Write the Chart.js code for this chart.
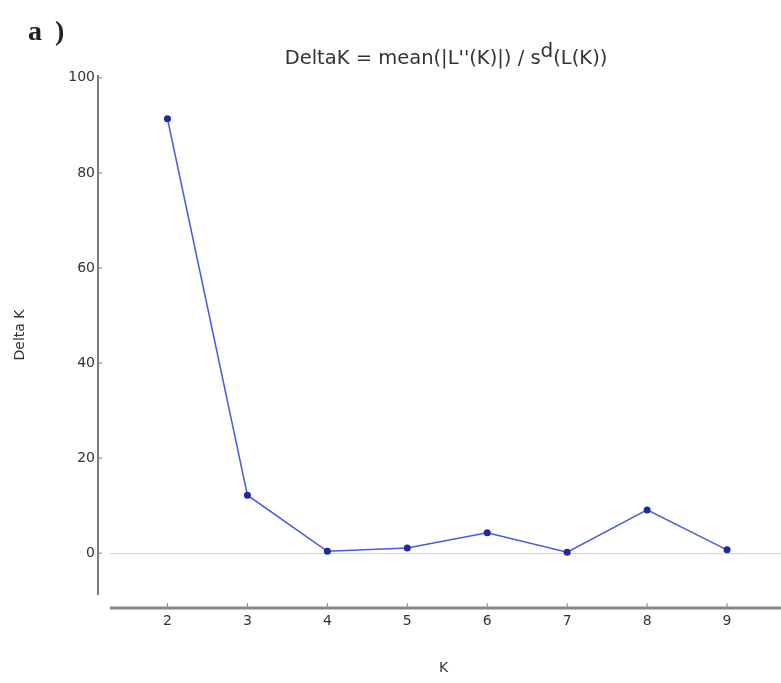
<!DOCTYPE html>
<html>
<head>
<meta charset="utf-8">
<script src="https://cdn.jsdelivr.net/npm/chart.js@4/dist/chart.umd.min.js"></script>
<style>
  html, body { margin: 0; padding: 0; background: #fff; }
  #wrap { width: 781px; height: 683px; position: relative; }
</style>
</head>
<body>
<div id="wrap"><canvas id="deltak-chart" width="781" height="683"></canvas></div>
<script>
// values
const kValues = [2, 3, 4, 5, 6, 7, 8, 9];
const deltaK = [91.4, 12.2, 0.4, 1.1, 4.3, 0.2, 9.1, 0.7];
const yTicks = [0, 20, 40, 60, 80, 100];
const xTicks = [2, 3, 4, 5, 6, 7, 8, 9];

const SANS = '"DejaVu Sans", Verdana, sans-serif';

// offset spines, title with superscript and the panel letter
const decorations = {
    id: 'decorations',
    afterDraw(chart) {
        const ctx = chart.ctx;
        const area = chart.chartArea;
        const x = chart.scales.x;
        const y = chart.scales.y;
        ctx.save();

        // left spine, pushed out from the plot area
        const lx = area.left - 12;
        ctx.strokeStyle = '#7a7a7a';
        ctx.lineWidth = 2;
        ctx.beginPath();
        ctx.moveTo(lx, area.top);
        ctx.lineTo(lx, area.bottom);
        ctx.stroke();
        ctx.lineWidth = 1;
        yTicks.forEach(v => {
            const py = y.getPixelForValue(v);
            ctx.beginPath();
            ctx.moveTo(lx, py);
            ctx.lineTo(lx + 4, py);
            ctx.stroke();
        });

        // zero line runs on to the canvas edge
        const zy = y.getPixelForValue(0);
        ctx.strokeStyle = '#cfcfcf';
        ctx.beginPath();
        ctx.moveTo(area.right, zy + 0.5);
        ctx.lineTo(chart.width, zy + 0.5);
        ctx.stroke();

        // bottom spine
        const by = area.bottom + 13;
        ctx.strokeStyle = '#888';
        ctx.lineWidth = 3;
        ctx.beginPath();
        ctx.moveTo(area.left, by);
        ctx.lineTo(chart.width, by);
        ctx.stroke();
        ctx.lineWidth = 1;
        xTicks.forEach(v => {
            const px = x.getPixelForValue(v);
            ctx.beginPath();
            ctx.moveTo(px, by - 5);
            ctx.lineTo(px, by);
            ctx.stroke();
        });

        // title: DeltaK = mean(|L''(K)|) / s^d(L(K))
        const parts = [
            { t: "DeltaK = mean(|L''(K)|) / s", size: 19.5, dy: 0 },
            { t: 'd', size: 20, dy: -7 },
            { t: '(L(K))', size: 19.5, dy: 0 }
        ];
        let total = 0;
        parts.forEach(p => {
            ctx.font = p.size + 'px ' + SANS;
            p.w = ctx.measureText(p.t).width;
            total += p.w;
        });
        let tx = 446 - total / 2;
        ctx.fillStyle = '#333';
        ctx.textBaseline = 'alphabetic';
        ctx.textAlign = 'left';
        parts.forEach(p => {
            ctx.font = p.size + 'px ' + SANS;
            ctx.fillText(p.t, tx, 64 + p.dy);
            tx += p.w;
        });

        // panel letter
        ctx.font = 'bold 28px "Liberation Serif", "Times New Roman", serif';
        ctx.fillStyle = '#222';
        ctx.letterSpacing = '3px';
        ctx.fillText('a )', 28, 40);

        ctx.restore();
    }
};

new Chart(document.getElementById('deltak-chart').getContext('2d'), {
    type: 'line',
    data: {
        datasets: [{
            label: 'DeltaK',
            data: kValues.map((k, i) => ({ x: k, y: deltaK[i] })),
            borderColor: '#4a5ae0',
            borderWidth: 1.5,
            backgroundColor: '#1e2a9e',
            pointBackgroundColor: '#1e2a9e',
            pointBorderColor: '#1e2a9e',
            pointRadius: 3.5,
            pointBorderWidth: 0,
            tension: 0,
            fill: false
        }]
    },
    options: {
        responsive: false,
        animation: false,
        layout: { padding: { top: 75, left: 0, right: 0, bottom: 0 } },
        plugins: {
            legend: { display: false },
            title: { display: false },
            tooltip: { enabled: false }
        },
        scales: {
            x: {
                type: 'linear',
                min: 1.281,
                max: 9.625,
                afterBuildTicks: scale => { scale.ticks = xTicks.map(v => ({ value: v })); },
                afterFit: scale => { scale.height = 88; },
                grid: { display: false, drawTicks: false },
                border: { display: false },
                ticks: {
                    padding: 18,
                    color: '#333',
                    font: { family: SANS, size: 14 },
                    callback: v => String(v)
                },
                title: {
                    display: true,
                    text: 'K',
                    color: '#333',
                    font: { family: SANS, size: 14 },
                    padding: { top: 0, bottom: 6.6 }
                }
            },
            y: {
                type: 'linear',
                min: -8.8,
                max: 100.6,
                afterBuildTicks: scale => { scale.ticks = yTicks.map(v => ({ value: v })); },
                afterFit: scale => { scale.width = 110; },
                grid: {
                    drawTicks: false,
                    lineWidth: 1,
                    color: c => (c.tick && c.tick.value === 0 ? '#cfcfcf' : 'rgba(0,0,0,0)')
                },
                border: { display: false },
                ticks: {
                    padding: 15,
                    color: '#333',
                    font: { family: SANS, size: 14 },
                    callback: v => String(v)
                },
                title: {
                    display: true,
                    text: 'Delta K',
                    color: '#333',
                    font: { family: SANS, size: 14 },
                    padding: { top: 11.6, bottom: 0 }
                }
            }
        }
    },
    plugins: [decorations]
});
</script>
</body>
</html>
